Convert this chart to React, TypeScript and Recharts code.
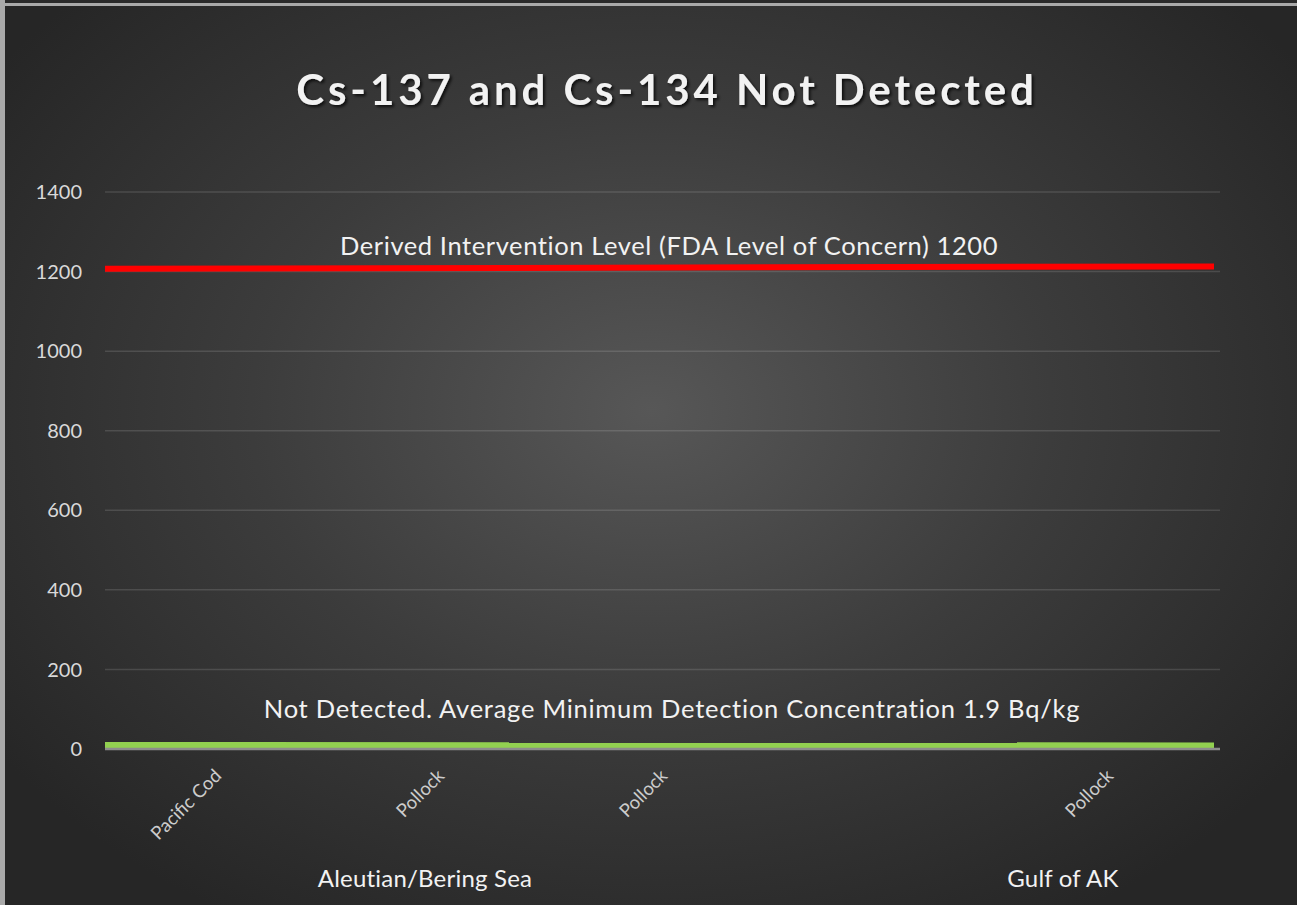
import React from "react";
import { ComposedChart, Line, Bar, XAxis, YAxis, CartesianGrid } from "recharts";

const categories = ["Pacific Cod", "Pollock", "Pollock", "", "Pollock"];
const measuredCs = [0, 0, 0, 0, 0];
const regionLabels = ["Aleutian/Bering Sea", "Gulf of AK"];
const yTicks = [0, 200, 400, 600, 800, 1000, 1200, 1400];
const lineX = [0, 1];
const interventionLevel = [1207, 1213];
const detectionLevel = [9.5, 8.3];

const titleText = "Cs-137 and Cs-134 Not Detected";
const redLabel = "Derived Intervention Level (FDA Level of Concern) 1200";
const greenLabel = "Not Detected. Average Minimum Detection Concentration 1.9 Bq/kg";

const rows = categories.map((name, i) => ({ name, cs: measuredCs[i] }));
const redData = lineX.map((x, i) => ({ x, v: interventionLevel[i] }));
const greenData = lineX.map((x, i) => ({ x, v: detectionLevel[i] }));

const FONT = "Lato, 'Open Sans', sans-serif";

const CatTick = (props: any) => {
  const { x, y, payload } = props;
  const ax = x + 6;
  const ay = y + 20;
  return (
    <text
      x={ax}
      y={ay}
      transform={`rotate(-45 ${ax} ${ay})`}
      textAnchor="end"
      fill="#cccccc"
      style={{ fontSize: "18.5px", fontFamily: FONT }}
    >
      {payload.value}
    </text>
  );
};

export default function App() {
  return (
    <div
      style={{
        position: "absolute",
        left: 0,
        top: 0,
        width: 1297,
        height: 905,
        background: "#a9a9a9",
        overflow: "hidden",
      }}
    >
      <div
        style={{
          position: "absolute",
          left: 5,
          top: 0,
          width: 1292,
          height: 3,
          background: "#2a2a2a",
        }}
      />
      <div
        style={{
          position: "absolute",
          left: 5,
          top: 6,
          width: 1292,
          height: 899,
          background:
            "radial-gradient(ellipse 62% 66% at 50% 45%, #575757 0%, #3c3c3c 50%, #262626 100%)",
        }}
      />
      <div style={{ position: "absolute", left: 0, top: 0 }}>
        <ComposedChart
          width={1297}
          height={905}
          data={rows}
          margin={{ top: 192, right: 77, bottom: 96, left: 0 }}
        >
          <CartesianGrid vertical={false} stroke="rgba(255,255,255,0.13)" strokeWidth={1.5} />
          <XAxis
            dataKey="name"
            interval={0}
            height={60}
            tickLine={false}
            axisLine={{ stroke: "#8c8c8c", strokeWidth: 2.5 }}
            tick={CatTick}
          />
          <XAxis
            xAxisId="pos"
            type="number"
            dataKey="x"
            domain={[0, 1.0054]}
            allowDataOverflow
            orientation="top"
            height={0}
            hide
          />
          <YAxis
            domain={[0, 1400]}
            ticks={yTicks}
            width={105}
            tickLine={false}
            axisLine={false}
            tickSize={0}
            tickMargin={23}
            tick={{ fill: "#d9d9d9", fontSize: 20, fontFamily: FONT }}
          />
          <Bar dataKey="cs" fill="#4472c4" isAnimationActive={false} />
          <Line
            xAxisId="pos"
            data={redData}
            dataKey="v"
            stroke="#ff0000"
            strokeWidth={6}
            dot={false}
            activeDot={false}
            isAnimationActive={false}
          />
          <Line
            xAxisId="pos"
            data={greenData}
            dataKey="v"
            stroke="#92d050"
            strokeWidth={6.5}
            dot={false}
            activeDot={false}
            isAnimationActive={false}
          />
        </ComposedChart>
      </div>
      <svg
        width={1297}
        height={905}
        style={{ position: "absolute", left: 0, top: 0, pointerEvents: "none" }}
      >
        <defs>
          <filter id="ts" x="-10%" y="-30%" width="120%" height="160%">
            <feDropShadow dx="2" dy="2" stdDeviation="1.5" floodColor="#000" floodOpacity="0.75" />
          </filter>
        </defs>
        <text
          x={667}
          y={105}
          textAnchor="middle"
          fill="#f2f2f2"
          fontSize={42}
          fontWeight={700}
          letterSpacing={3.9}
          fontFamily={FONT}
          filter="url(#ts)"
        >
          {titleText}
        </text>
        <text x={669} y={255} textAnchor="middle" fill="#f2f2f2" fontSize={25.5} letterSpacing={0.6} fontFamily={FONT}>
          {redLabel}
        </text>
        <text x={672} y={718} textAnchor="middle" fill="#f2f2f2" fontSize={25.5} letterSpacing={0.75} fontFamily={FONT}>
          {greenLabel}
        </text>
        <text x={425} y={887} textAnchor="middle" fill="#f2f2f2" fontSize={24} letterSpacing={0.2} fontFamily={FONT}>
          {regionLabels[0]}
        </text>
        <text x={1063} y={887} textAnchor="middle" fill="#f2f2f2" fontSize={24} letterSpacing={0.2} fontFamily={FONT}>
          {regionLabels[1]}
        </text>
      </svg>
    </div>
  );
}
